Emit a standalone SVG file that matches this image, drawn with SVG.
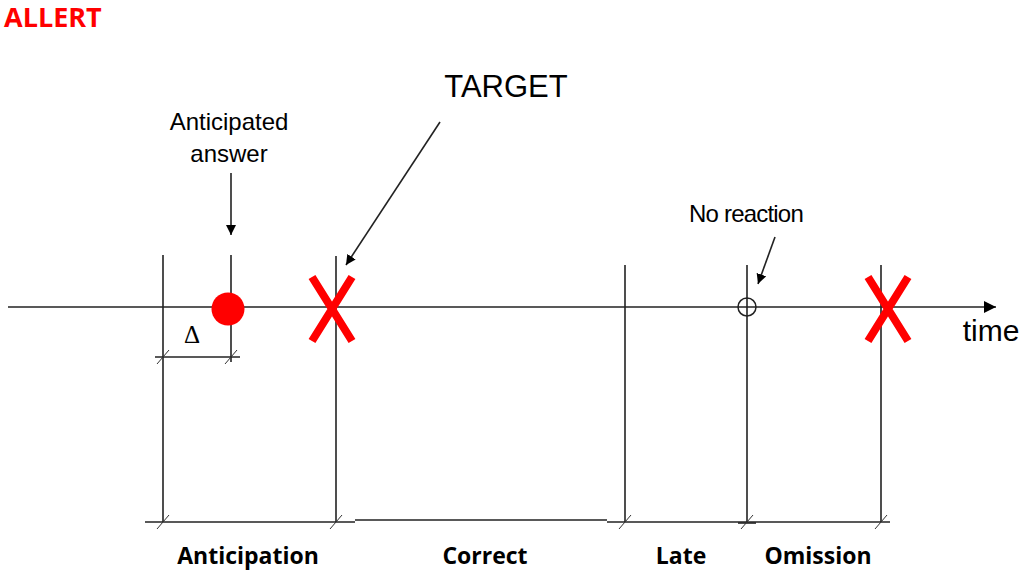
<svg xmlns="http://www.w3.org/2000/svg" width="1024" height="579" viewBox="0 0 1024 579">
<defs>
<marker id="ah" viewBox="0 0 10 10" refX="10" refY="5" markerWidth="10" markerHeight="10" markerUnits="userSpaceOnUse" orient="auto">
<path d="M0,0 L10,5 L0,10 z" fill="#000"/>
</marker>
<marker id="ahb" viewBox="0 0 10 10" refX="10" refY="5" markerWidth="14" markerHeight="12" markerUnits="userSpaceOnUse" orient="auto">
<path d="M0,0 L10,5 L0,10 z" fill="#000"/>
</marker>
</defs>
<style>
.ln{stroke:#222;stroke-width:1.6;fill:none}
.tk{stroke:#333;stroke-width:1;fill:none}
.x{stroke:#ff0000;stroke-width:8;fill:none}
.lab{font-family:"Liberation Sans",Arial,sans-serif;fill:#000}
.cat{font-family:"Open Sans","Liberation Sans",sans-serif;font-weight:bold;font-size:23px;fill:#000;text-anchor:middle}
</style>
<rect width="1024" height="579" fill="#fff"/>
<text x="4" y="27" font-family="'Open Sans','Liberation Sans',sans-serif" font-weight="bold" font-size="27" fill="#ff0000">ALLERT</text>

<g id="connectors">
<line class="ln" x1="8" y1="307" x2="996" y2="307" marker-end="url(#ahb)"/>
<line class="ln" x1="163" y1="255" x2="163" y2="522"/>
<line class="ln" x1="231" y1="255" x2="231" y2="362"/>
<line class="ln" x1="336" y1="256" x2="336" y2="522"/>
<line class="ln" x1="625" y1="265" x2="625" y2="522"/>
<line class="ln" x1="747" y1="265" x2="747" y2="522"/>
<line class="ln" x1="881" y1="265" x2="881" y2="522"/>
<line class="ln" x1="155" y1="357" x2="240" y2="357"/>
<line class="tk" x1="157" y1="364" x2="169" y2="350"/>
<line class="tk" x1="225" y1="364" x2="237" y2="350"/>
<line class="ln" x1="145" y1="522" x2="355" y2="522"/>
<line class="ln" x1="355" y1="520" x2="607" y2="520"/>
<line class="ln" x1="607" y1="522" x2="890" y2="522"/>
<line class="ln" x1="738" y1="523" x2="756" y2="523" stroke-width="2.5"/>
<line class="tk" x1="157" y1="529" x2="169" y2="515"/>
<line class="tk" x1="330" y1="529" x2="342" y2="515"/>
<line class="tk" x1="619" y1="529" x2="631" y2="515"/>
<line class="tk" x1="741" y1="529" x2="753" y2="515"/>
<line class="tk" x1="875" y1="529" x2="887" y2="515"/>
<line class="ln" x1="231" y1="173" x2="231" y2="235" marker-end="url(#ah)"/>
<line class="ln" x1="440" y1="122" x2="346" y2="265" marker-end="url(#ah)"/>
<line class="ln" x1="775" y1="237" x2="758" y2="284" marker-end="url(#ah)"/>
</g>

<g id="anticipated">
<text class="lab" x="229" y="130" font-size="24" text-anchor="middle">Anticipated</text>
<text class="lab" x="229" y="162" font-size="24" text-anchor="middle">answer</text>
<circle cx="228" cy="309" r="16.5" fill="#ff0000"/>
<text x="192" y="343" font-family="'Liberation Serif',serif" font-size="25" text-anchor="middle" fill="#000">Δ</text>
</g>

<g id="target">
<text class="lab" x="506" y="97" font-size="31" text-anchor="middle">TARGET</text>
<path class="x" d="M312,277 L352,341 M352,277 L312,341"/>
</g>

<g id="noreaction">
<text class="lab" x="746" y="222" font-size="24" text-anchor="middle" letter-spacing="-0.8">No reaction</text>
<circle cx="747" cy="307" r="9" fill="none" stroke="#222" stroke-width="1.5"/>
</g>

<g id="omissionX">
<path class="x" d="M868,277 L908,341 M908,277 L868,341"/>
</g>

<g id="time">
<text class="lab" x="991" y="341" font-size="30" text-anchor="middle">time</text>
</g>

<g id="categories">
<text class="cat" x="248" y="564">Anticipation</text>
<text class="cat" x="485" y="564">Correct</text>
<text class="cat" x="681" y="564">Late</text>
<text class="cat" x="818" y="564">Omission</text>
</g>
</svg>
